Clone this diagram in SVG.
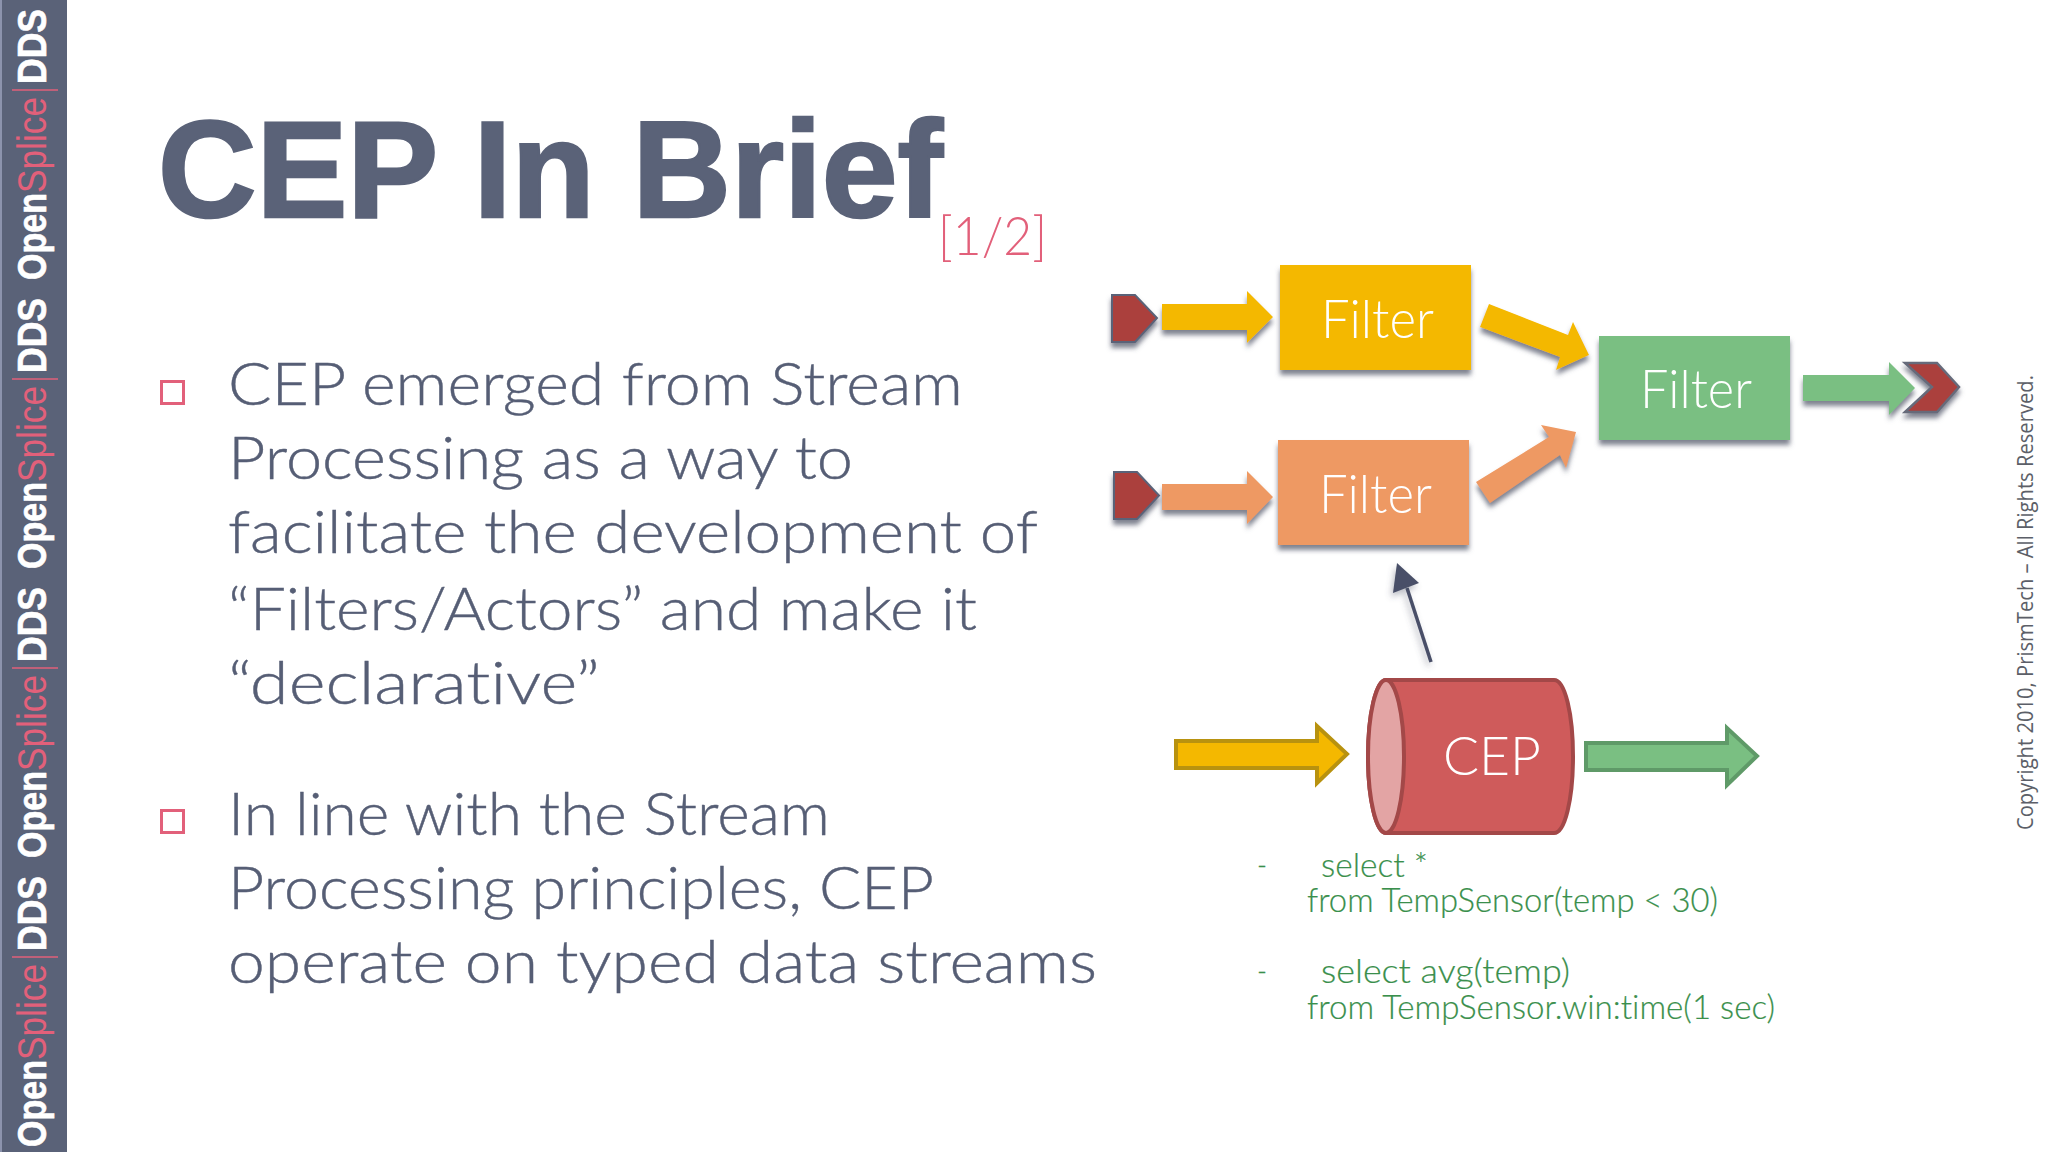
<svg xmlns="http://www.w3.org/2000/svg" width="2048" height="1152" viewBox="0 0 2048 1152">
<defs>
<style>
text{font-variant-ligatures:none}
.side{font-family:"Liberation Sans",Arial,sans-serif;font-size:40px}
.w{font-weight:700;fill:#ffffff;stroke:#ffffff;stroke-width:0.6}
.r{font-weight:400;fill:#e2607a}
.body{font-family:Lato,"Open Sans",sans-serif;font-weight:300;font-size:59px;fill:#565e75;stroke:#565e75;stroke-width:0.4}
.lbl{font-family:Lato,"Open Sans",sans-serif;font-weight:300;font-size:54px;fill:#ffffff}
.code{font-family:Lato,"Open Sans",sans-serif;font-weight:300;font-size:33px;fill:#3a8f4c;stroke:#3a8f4c;stroke-width:0.2}
.bul{fill:none;stroke:#e2607a;stroke-width:3}
.sbar{stroke:#e2607a;stroke-width:1.5}
</style>
<filter id="sh" x="-20%" y="-20%" width="140%" height="150%"><feDropShadow dx="0" dy="5" stdDeviation="2.5" flood-color="#55586a" flood-opacity="0.75"/></filter>
<filter id="sh2" x="-30%" y="-30%" width="160%" height="160%"><feDropShadow dx="-2" dy="4" stdDeviation="3" flood-color="#55586a" flood-opacity="0.4"/></filter>
<g id="sideUnit">
<text class="side w" transform="translate(46,0) rotate(-90)" textLength="87" lengthAdjust="spacingAndGlyphs">Open</text>
<text class="side r" transform="translate(46,-87) rotate(-90)" textLength="96" lengthAdjust="spacingAndGlyphs">Splice</text>
<line class="sbar" x1="12" y1="-190" x2="58" y2="-190"/>
</g>
</defs>
<rect width="2048" height="1152" fill="#ffffff"/>
<g id="sidebar">
<rect x="0" y="0" width="67" height="1152" fill="#5a6278"/>
<rect x="0" y="0" width="2" height="1152" fill="#8c93ad"/>
<use href="#sideUnit" y="1147"/>
<use href="#sideUnit" y="858"/>
<use href="#sideUnit" y="569"/>
<use href="#sideUnit" y="280"/>
<text class="side w" transform="translate(46,951) rotate(-90)" textLength="75" lengthAdjust="spacingAndGlyphs">DDS</text>
<text class="side w" transform="translate(46,662) rotate(-90)" textLength="75" lengthAdjust="spacingAndGlyphs">DDS</text>
<text class="side w" transform="translate(46,373) rotate(-90)" textLength="75" lengthAdjust="spacingAndGlyphs">DDS</text>
<text class="side w" transform="translate(46,84) rotate(-90)" textLength="75" lengthAdjust="spacingAndGlyphs">DDS</text>
</g>
<g id="title">
<text x="158" y="217" font-family="Liberation Sans, Arial, sans-serif" font-weight="700" font-size="137" fill="#5a6278" stroke="#5a6278" stroke-width="2.500" textLength="785" lengthAdjust="spacingAndGlyphs">CEP In Brief</text>
<text x="938" y="255" font-family="Lato, sans-serif" font-weight="300" font-size="54" fill="#e2607a" textLength="109" lengthAdjust="spacingAndGlyphs">[1/2]</text>
</g>
<g id="bullets">
<rect class="bul" x="161.500" y="381.500" width="22" height="22"/>
<rect class="bul" x="161.500" y="810.500" width="22" height="22"/>
<text class="body" x="228" y="405" textLength="735" lengthAdjust="spacingAndGlyphs">CEP emerged from Stream</text>
<text class="body" x="228" y="479" textLength="625" lengthAdjust="spacingAndGlyphs">Processing as a way to</text>
<text class="body" x="228" y="553" textLength="810" lengthAdjust="spacingAndGlyphs">facilitate the development of</text>
<text class="body" x="228" y="630" textLength="749" lengthAdjust="spacingAndGlyphs">“Filters/Actors” and make it</text>
<text class="body" x="228" y="704" textLength="372" lengthAdjust="spacingAndGlyphs">“declarative”</text>
<text class="body" x="228" y="835" textLength="602" lengthAdjust="spacingAndGlyphs">In line with the Stream</text>
<text class="body" x="228" y="909" textLength="706" lengthAdjust="spacingAndGlyphs">Processing principles, CEP</text>
<text class="body" x="228" y="983" textLength="869" lengthAdjust="spacingAndGlyphs">operate on typed data streams</text>
</g>
<g id="connectors">
<polygon points="1112,295 1135,295 1157,318 1135,342 1112,342" fill="#ab403c" stroke="#5a6278" stroke-width="2" filter="url(#sh)"/>
<polygon points="1114,472 1137,472 1159,495.500 1137,519 1114,519" fill="#ab403c" stroke="#5a6278" stroke-width="2" filter="url(#sh)"/>
<polygon points="1162,304 1247,304 1247,291 1273,317 1247,343 1247,330 1162,330" fill="#f4b800" filter="url(#sh)"/>
<polygon points="1162,484 1247,484 1247,471 1273,497 1247,524 1247,510 1162,510" fill="#ee9963" filter="url(#sh)"/>
<polygon points="1489,304 1568,335 1573,322 1589,355 1556,370 1560,357 1480,327" fill="#f4b800" filter="url(#sh)"/>
<polygon points="1476,482 1549,437 1541,425 1576,432 1566,468 1560,455 1490,503" fill="#ee9963" filter="url(#sh)"/>
<polygon points="1905,363 1937,363 1959,387 1937,412 1905,412 1932,387" fill="#ab403c" stroke="#666a7a" stroke-width="2.500" filter="url(#sh)"/>
<polygon points="1803,375 1889,375 1889,362 1915,388 1889,415 1889,401 1803,401" fill="#7abf82" filter="url(#sh)"/>
<g filter="url(#sh2)">
<line x1="1431" y1="662" x2="1407" y2="588" stroke="#4a5068" stroke-width="3.500"/>
<polygon points="1397,563 1393,593 1419,583" fill="#4a5068"/>
</g>
<polygon points="1176,741 1317,741 1317,726 1347,754 1317,783 1317,768 1176,768" fill="#f4b800" stroke="#b8920f" stroke-width="4"/>
<polygon points="1586,743 1727,743 1727,728 1757,756 1727,785 1727,770 1586,770" fill="#7abf82" stroke="#5f9a68" stroke-width="4"/>
</g>
<g id="filter1">
<rect x="1280" y="265" width="191" height="105" fill="#f4b800" filter="url(#sh)"/>
<text class="lbl" x="1321" y="338" textLength="113" lengthAdjust="spacingAndGlyphs">Filter</text>
</g>
<g id="filter2">
<rect x="1278" y="440" width="191" height="105" fill="#ee9963" filter="url(#sh)"/>
<text class="lbl" x="1319" y="513" textLength="113" lengthAdjust="spacingAndGlyphs">Filter</text>
</g>
<g id="filter3">
<rect x="1599" y="336" width="191" height="104" fill="#7abf82" filter="url(#sh)"/>
<text class="lbl" x="1640" y="408" textLength="112" lengthAdjust="spacingAndGlyphs">Filter</text>
</g>
<g id="cep">
<path d="M1386,680 H1554 C1565,680 1573,714 1573,756.500 C1573,799 1565,833 1554,833 H1386 C1376,833 1368,799 1368,756.500 C1368,714 1376,680 1386,680 Z" fill="#cf5b5b" stroke="#a34848" stroke-width="4"/>
<ellipse cx="1386" cy="756.500" rx="18" ry="76.500" fill="#e3a4a4" stroke="#a34848" stroke-width="4"/>
<text class="lbl" x="1443" y="775" textLength="98" lengthAdjust="spacingAndGlyphs">CEP</text>
</g>
<g id="code">
<text class="code" x="1257" y="877" textLength="10" lengthAdjust="spacingAndGlyphs">-</text>
<text class="code" x="1321" y="877" textLength="107" lengthAdjust="spacingAndGlyphs">select *</text>
<text class="code" x="1307" y="912" textLength="411" lengthAdjust="spacingAndGlyphs">from TempSensor(temp &lt; 30)</text>
<text class="code" x="1257" y="983" textLength="10" lengthAdjust="spacingAndGlyphs">-</text>
<text class="code" x="1321" y="983" textLength="249" lengthAdjust="spacingAndGlyphs">select avg(temp)</text>
<text class="code" x="1307" y="1019" textLength="468" lengthAdjust="spacingAndGlyphs">from TempSensor.win:time(1 sec)</text>
</g>
<g id="copyright">
<text transform="translate(2033,830) rotate(-90)" font-family="Open Sans, Noto Sans, sans-serif" font-size="21" fill="#5c5f68" textLength="455" lengthAdjust="spacingAndGlyphs">Copyright 2010, PrismTech – All Rights Reserved.</text>
</g>
</svg>
